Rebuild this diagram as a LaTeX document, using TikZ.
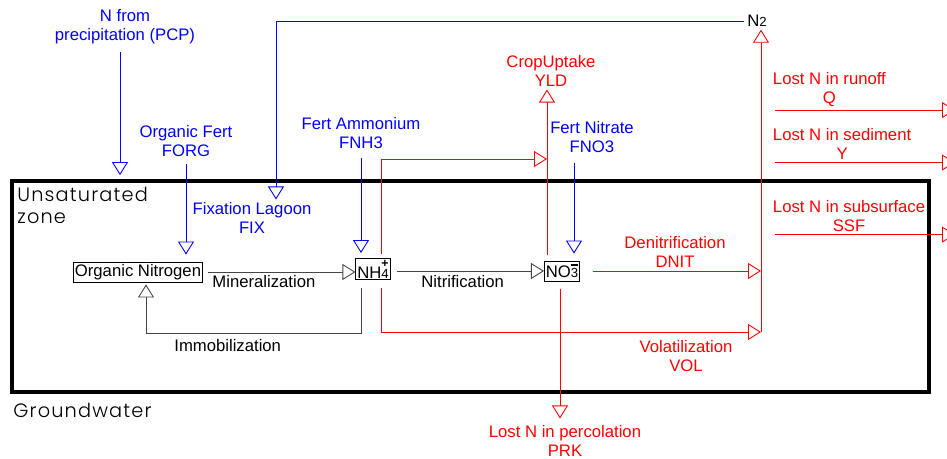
\documentclass[tikz,border=0pt]{standalone}
\usepackage{fontspec}
\setmainfont{Liberation Sans}
\newfontfamily\zonefont[LetterSpace=6]{Poppins Light}
\usetikzlibrary{arrows.meta, positioning}
\definecolor{flowBlue}{RGB}{0,0,255}
\definecolor{flowRed}{RGB}{255,0,0}
\definecolor{flowGray}{RGB}{70,70,70}
\newcommand{\ionpart}[2]{\makebox[0pt][l]{\raisebox{1.25ex}{#1}}{\fontsize{7.5}{8}\selectfont #2}}

\begin{document}
\begin{tikzpicture}[x=0.02cm, y=-0.02cm,
flowtxt/.style={font=\fontsize{9.5}{10.8}\selectfont, align=center, inner sep=1.5pt},
inflow/.style={flowtxt, text=flowBlue},
outflow/.style={flowtxt, text=flowRed},
pool/.style={draw, line width=0.5pt, inner sep=0.8pt, minimum height=0.4cm,
font=\fontsize{9.5}{10.8}\selectfont},
zonetxt/.style={font=\zonefont\fontsize{11}{12.5}\selectfont, align=left,
anchor=west, inner sep=0pt},
flow/.style={-{Triangle[open, length=2.6mm, width=3.2mm]}, line width=0.5pt},
gain/.style={flow, draw=flowBlue},
loss/.style={flow, draw=flowRed},
turn/.style={flow, draw=flowGray}]
\useasboundingbox (0,0) rectangle (947,459);
\node[draw, line width=2.2pt, minimum width=18.34cm, minimum height=4.22cm,
inner sep=0pt] (soil) at (470.5,286.5) {};
\node[zonetxt] (unsat) at (17,205) {Unsaturated\\zone};
\node[zonetxt] (ground) at (13,410) {Groundwater};
\node[pool] (orgN) at (138,272) {Organic Nitrogen};
\node[pool] (nh4) at (373,269)
    {NH\ionpart{\fontsize{7}{7}\selectfont\bfseries +}{4}};
\node[pool] (no3) at (562,271) {NO\ionpart{\rule{4pt}{1.1pt}}{3}};
\node[flowtxt] (n2) at (757,21) {N{\fontsize{7.5}{8}\selectfont 2}};
\node[inflow] (pcp) at (125,27) {N from\\precipitation (PCP)};
\node[inflow] (forg) at (186,141) {Organic Fert\\FORG};
\node[inflow] (fnh3) at (361,133) {Fert Ammonium\\FNH3};
\node[inflow] (fno3) at (592,137) {Fert Nitrate\\FNO3};
\node[inflow] (fix) at (252,218) {Fixation Lagoon\\FIX};
\node[outflow] (crop) at (551,71) {CropUptake\\YLD};
\node[outflow] (dnit) at (675,252) {Denitrification\\DNIT};
\node[outflow] (vol) at (686,356) {Volatilization\\VOL};
\node[outflow] (prk) at (565,441) {Lost N in percolation\\PRK};
\node[outflow, anchor=west] (runoff) at (770,90) {Lost N in runoff\\Q};
\node[outflow, anchor=west] (sed) at (770,144) {Lost N in sediment\\Y};
\node[outflow, anchor=west] (ssf) at (770,216) {Lost N in subsurface\\SSF};
\coordinate (sink) at (761,332);
\coordinate (upFoot) at ([xshift=-0.3cm, yshift=0.12cm]no3.north);
\coordinate (upJoin) at (547,159);
\coordinate (pcpFoot) at ([xshift=-0.1cm]pcp.south);
\coordinate (fno3Foot) at ([xshift=-0.36cm]fno3.south);
\coordinate (prkFoot) at ([xshift=-0.04cm, yshift=-0.16cm]no3.south);
\coordinate (nitStart) at ([yshift=-0.04cm]nh4.east);
\draw[turn, shorten <=0.1cm] (orgN.east) --
    node[flowtxt, below, pos=0.4] {Mineralization} (orgN.east -| nh4.west);
\draw[turn, shorten <=0.12cm] (nitStart) --
    node[flowtxt, below=1pt, pos=0.47] {Nitrification} (nitStart -| no3.west);
\draw[turn] ([xshift=-0.24cm, yshift=-0.16cm]nh4.south) -- ++(0,45) -|
    node[flowtxt, below=2pt, pos=0.31] {Immobilization}
    ([xshift=0.16cm, yshift=-0.04cm]orgN.south);
\draw[gain, shorten <=0.1cm, shorten >=0.08cm] (pcpFoot) -- (pcpFoot |- soil.north);
\draw[gain, shorten <=0.08cm, shorten >=0.14cm] (forg.south) -- (forg.south |- orgN.north);
\draw[gain, shorten <=0.12cm, shorten >=0.1cm] (fnh3.south) -- (fnh3.south |- nh4.north);
\draw[gain, shorten <=0.14cm, shorten >=0.14cm] (fno3Foot) -- (fno3Foot |- no3.north);
\draw[gain] (n2.west) -| ([xshift=0.48cm]fix.north);
\draw[loss] (sink) -- (sink |- n2.south);
\draw[loss, shorten <=0.26cm] (no3.east) -- (no3.east -| sink);
\draw[loss] ([xshift=0.16cm, yshift=-0.16cm]nh4.south) |- (sink);
\draw[loss] ([xshift=0.16cm, yshift=0.08cm]nh4.north) |- (upJoin);
\draw[loss] (upFoot) -- (upFoot |- crop.south);
\draw[loss, shorten >=0.08cm] (prkFoot) -- (prkFoot |- prk.north);
\draw[loss] ([xshift=0.1cm]runoff.south west) -- ++(180,0);
\draw[loss] ([xshift=0.1cm]sed.south west) -- ++(180,0);
\draw[loss] ([xshift=0.1cm]ssf.south west) -- ++(180,0);
\end{tikzpicture}
\end{document}
